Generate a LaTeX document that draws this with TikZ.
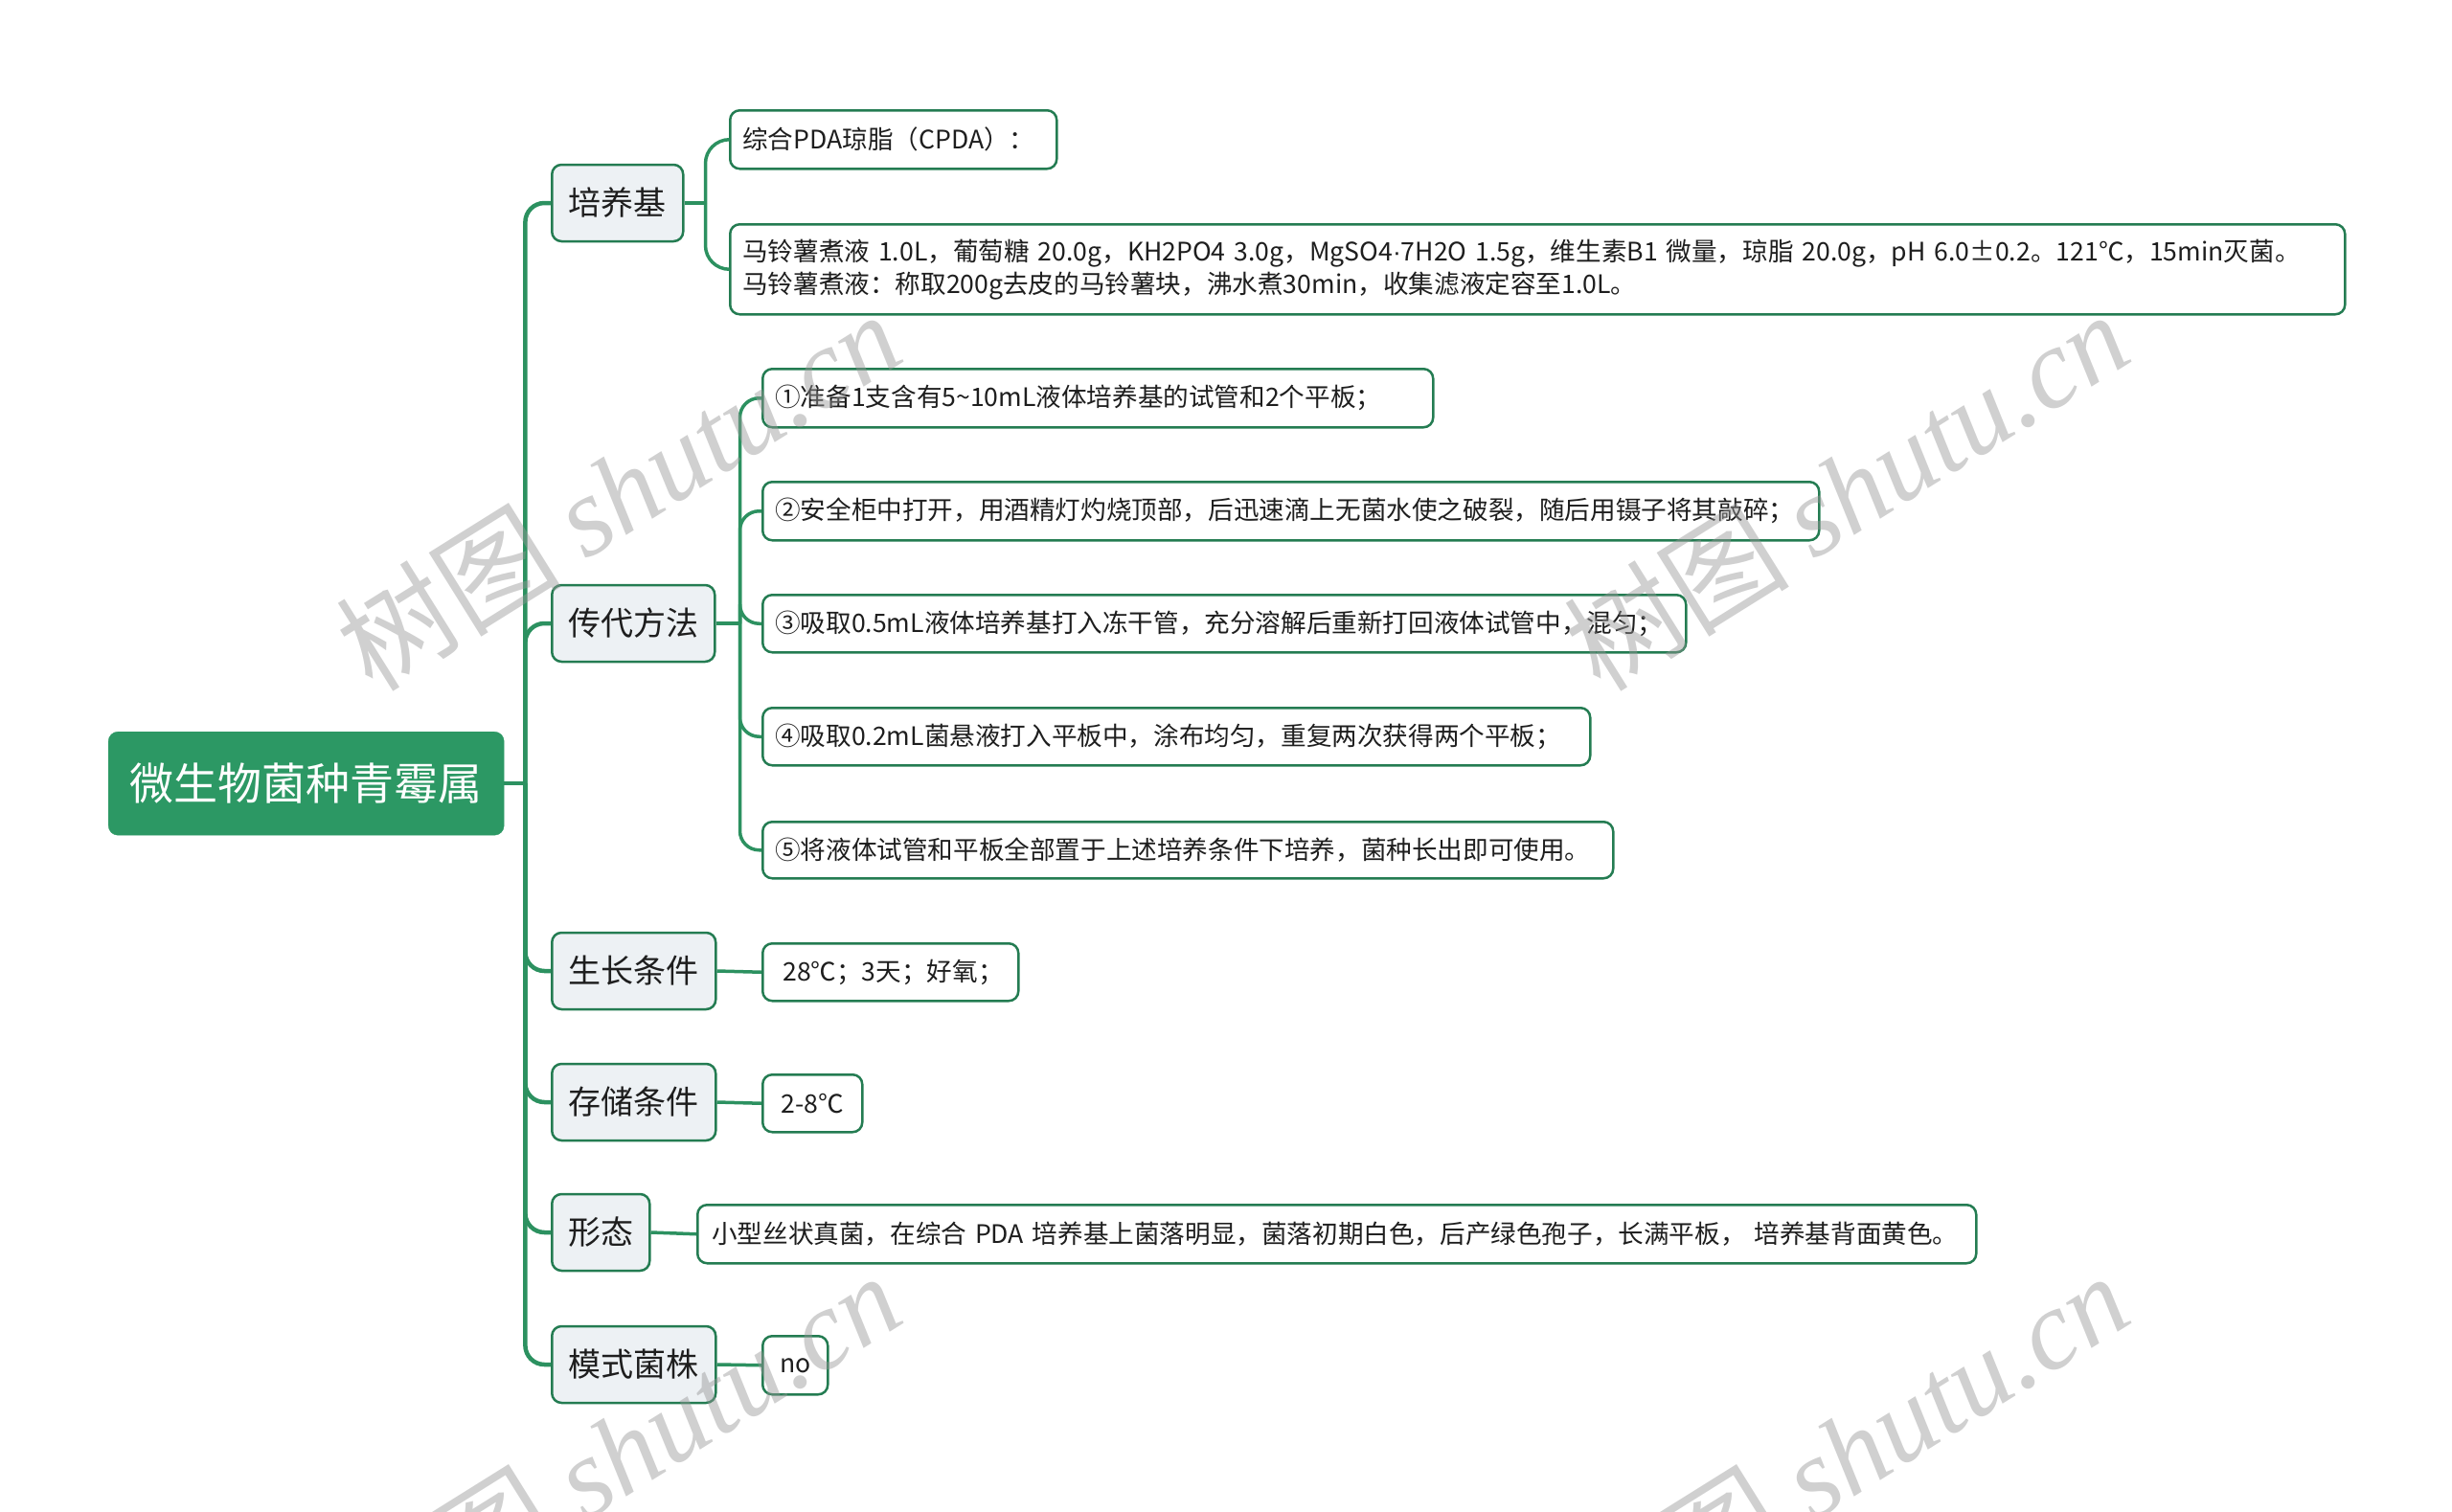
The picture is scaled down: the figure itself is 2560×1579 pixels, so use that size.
\documentclass[tikz,border=0pt]{standalone}
\usepackage{fontspec}
\setmainfont{Noto Sans CJK SC}
\newfontfamily\wmlat{Liberation Serif}
\newfontfamily\latf{Liberation Sans}
\usetikzlibrary{calc}
\definecolor{rootgreen}{RGB}{44,152,100}
\definecolor{linegreen}{RGB}{44,145,96}
\definecolor{boxgreen}{RGB}{36,124,82}
\definecolor{subfill}{RGB}{237,241,244}
\definecolor{txt}{RGB}{30,30,30}
\definecolor{wmgray}{RGB}{150,150,150}
\begin{document}
\begin{tikzpicture}[x=1pt,y=-1pt,
  rootbox/.style={fill=rootgreen, draw=rootgreen, rounded corners=10pt, text=white,
    font=\fontsize{46}{54}\selectfont, inner sep=0pt, anchor=north west},
  subbox/.style={fill=subfill, draw=boxgreen, line width=2.5pt, rounded corners=10pt,
    text=txt, font=\fontsize{34}{40}\selectfont, inner sep=0pt, minimum height=80pt, anchor=west},
  leafbox/.style={fill=white, draw=boxgreen, line width=2.5pt, rounded corners=10pt,
    text=txt, font=\fontsize{26.6}{34}\selectfont, align=left, inner ysep=0pt, anchor=north west},
  leafc/.style={fill=white, draw=boxgreen, line width=2.5pt, rounded corners=10pt,
    text=txt, font=\fontsize{26.6}{34}\selectfont, inner sep=0pt, anchor=north west},
  trunk/.style={draw=linegreen, line width=4.5pt, rounded corners=20pt},
  twig/.style={draw=linegreen, line width=3.5pt, rounded corners=20pt},
  wm/.style={text=wmgray, opacity=0.45, rotate=32, font=\fontsize{118}{126}\selectfont, inner sep=0pt}
]
\useasboundingbox (0,0) rectangle (2560,1579);

% root
\node[rootbox, minimum width=413pt, minimum height=108pt] (root) at (113,764) {微生物菌种青霉属};

% subtopics
\node[subbox, minimum width=137pt] (s1) at (575,212) {培养基};
\node[subbox, minimum width=170pt] (s2) at (575,651) {传代方法};
\node[subbox, minimum width=171pt] (s3) at (575,1014) {生长条件};
\node[subbox, minimum width=171pt] (s4) at (575,1151) {存储条件};
\node[subbox, minimum width=102pt] (s5) at (575,1287) {形态};
\node[subbox, minimum width=171pt] (s6) at (575,1425) {模式菌株};

% leaves of 培养基
\node[leafbox, inner xsep=13pt, text width=315pt, minimum height=61pt] (l1) at (761,114)
  {\mbox{综合PDA琼脂（CPDA）：}};
\node[leafbox, inner xsep=13pt, text width=1660pt, minimum height=94pt] (l2) at (761,233)
  {\mbox{马铃薯煮液 1.0L，葡萄糖 20.0g，KH2PO4 3.0g，MgSO4{\latf ·}7H2O 1.5g，维生素B1 微量，琼脂 20.0g，pH 6.0±0.2。121℃，15min灭菌。}\\
   \mbox{马铃薯煮液：称取200g去皮的马铃薯块，沸水煮30min，收集滤液定容至1.0L。}};

% leaves of 传代方法
\node[leafbox, inner xsep=13pt, text width=674pt, minimum height=61pt] (p1) at (795,384)
  {\mbox{①准备1支含有5\textasciitilde10mL液体培养基的试管和2个平板；}};
\node[leafbox, inner xsep=13pt, text width=1077pt, minimum height=61pt] (p2) at (795,502)
  {\mbox{②安全柜中打开，用酒精灯灼烧顶部，后迅速滴上无菌水使之破裂，随后用镊子将其敲碎；}};
\node[leafbox, inner xsep=13pt, text width=938pt, minimum height=60pt] (p3) at (795,620)
  {\mbox{③吸取0.5mL液体培养基打入冻干管，充分溶解后重新打回液体试管中，混匀；}};
\node[leafbox, inner xsep=13pt, text width=838pt, minimum height=60pt] (p4) at (795,738)
  {\mbox{④吸取0.2mL菌悬液打入平板中，涂布均匀，重复两次获得两个平板；}};
\node[leafbox, inner xsep=13pt, text width=862pt, minimum height=59pt] (p5) at (795,857)
  {\mbox{⑤将液体试管和平板全部置于上述培养条件下培养，菌种长出即可使用。}};

% other leaves
\node[leafbox, inner xsep=21pt, text width=225pt, minimum height=60pt] (g1) at (795,984)
  {\mbox{28℃；3天；好氧；}};
\node[leafc, minimum width=104pt, minimum height=60pt] (c1) at (795,1121) {2-8℃};
\node[leafbox, inner xsep=15pt, text width=1305pt, minimum height=61pt] (m1) at (727,1257)
  {\mbox{小型丝状真菌，在综合 PDA 培养基上菌落明显，菌落初期白色，后产绿色孢子，长满平板，\ 培养基背面黄色。}};
\node[leafc, minimum width=68pt, minimum height=61pt] (n1) at (795,1394) {no};

% trunk
\coordinate (rj) at ($(root.east)+(22,0)$);
\draw[trunk] (root.east) -- (rj);
\foreach \s in {s1,s2,s3,s4,s5,s6} \draw[trunk] (rj) |- (\s.west);

% 培养基 bracket
\coordinate (b1) at ($(s1.east)+(22,0)$);
\draw[twig] (s1.east) -- (b1);
\draw[twig, rounded corners=25pt] (b1) |- (l1.west);
\draw[twig, rounded corners=25pt] (b1) |- (l2.west);

% 传代方法 branches
\coordinate (b2) at ($(s2.east)+(25,0)$);
\draw[twig] (s2.east) -- (b2);
\foreach \p in {p1,p2,p3,p4,p5} \draw[twig] (b2) |- (\p.west);

% single leaves
\draw[twig] (s3.east) -- (g1.west);
\draw[twig] (s4.east) -- (c1.west);
\draw[twig] (s5.east) -- (m1.west);
\draw[twig] (s6.east) -- (n1.west);

% watermarks
\node[wm] (w1) at (645,512) {树图 {\wmlat\itshape shutu.cn}};
\node[wm] (w2) at (1927,512) {树图 {\wmlat\itshape shutu.cn}};
\node[wm] (w3) at (645,1516) {树图 {\wmlat\itshape shutu.cn}};
\node[wm] (w4) at (1927,1516) {树图 {\wmlat\itshape shutu.cn}};
\end{tikzpicture}
\end{document}
